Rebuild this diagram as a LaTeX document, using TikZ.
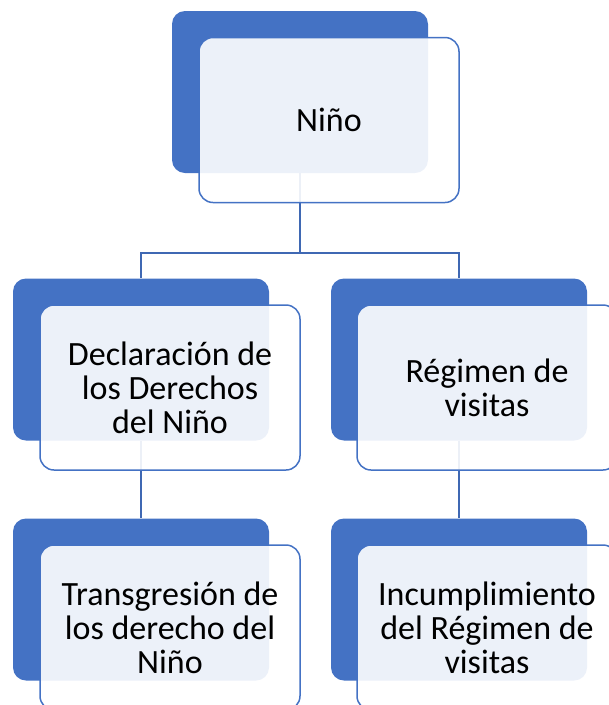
\documentclass[tikz,border=0pt]{standalone}
\usepackage{fontspec}
\setmainfont{Carlito}
\definecolor{accent}{HTML}{4472C4}
\definecolor{conn}{HTML}{3F68B3}
\begin{document}
\begin{tikzpicture}[x=1pt,y=-1pt,
  back/.style={rectangle, rounded corners=13pt, fill=accent, draw=none,
    minimum width=256pt, minimum height=162pt, inner sep=0pt},
  front/.style={rectangle, rounded corners=14pt, fill=white, fill opacity=0.9,
    text opacity=1, draw=accent, line width=1.5pt,
    minimum width=260pt, minimum height=165pt, inner sep=0pt, align=center,
    font=\fontsize{34}{34}\selectfont},
  link/.style={draw=conn, line width=2pt}]
\useasboundingbox (0,0) rectangle (609,705);
\clip (0,0) rectangle (609,705);
% back boxes
\node[back] (b0) at (300,92) {};
\node[back] (b1) at (141,359.5) {};
\node[back] (b2) at (459,359.5) {};
\node[back] (b3) at (141,599.5) {};
\node[back] (b4) at (459,599.5) {};
% connectors
\coordinate (j0) at (300,253);
\draw[link] (b0.south) -- (j0);
\draw[link] (j0) -| (b1.north);
\draw[link] (j0) -| (b2.north);
\draw[link] (b1.south) -- (b3.north);
\draw[link] (b2.south) -- (b4.north);
% front boxes
\node[front] (f0) at (329,120) {Niño};
\node[front] (f1) at (170,387.5) {Declaración de\\los Derechos\\del Niño};
\node[front] (f2) at (487,387.5) {Régimen de\\visitas};
\node[front] (f3) at (170,627.5) {Transgresión de\\los derecho del\\Niño};
\node[front] (f4) at (487,627.5) {Incumplimiento\\del Régimen de\\visitas};
\end{tikzpicture}
\end{document}
